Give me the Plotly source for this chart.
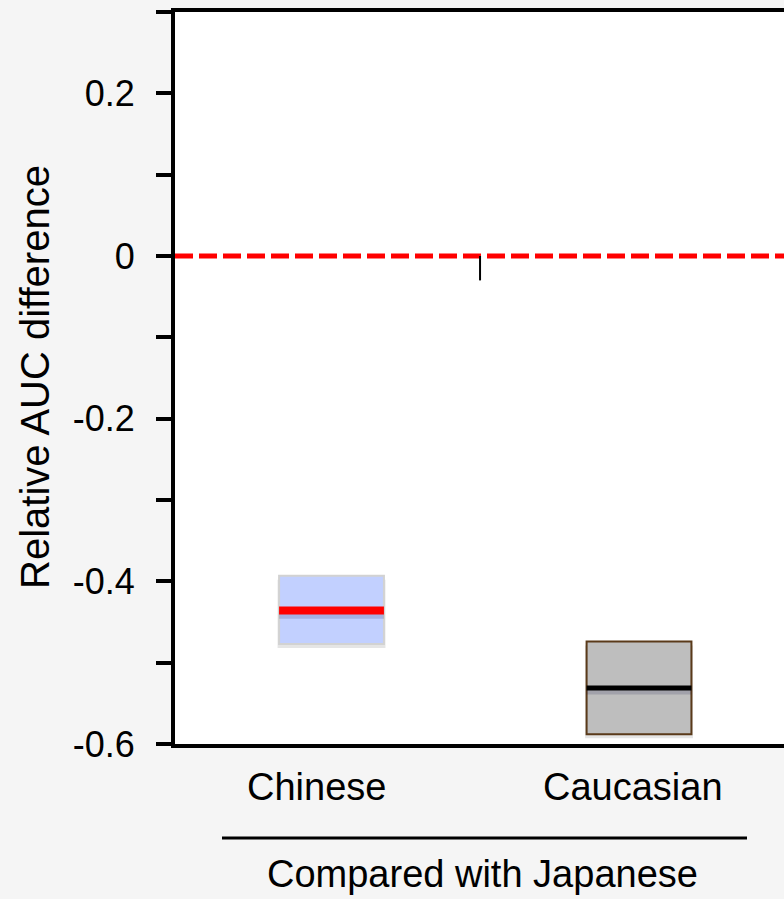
import plotly.graph_objects as go

categories = ["Chinese", "Caucasian"]
cat_pos = [1, 2]
q_low = [-0.477, -0.588]
q_high = [-0.393, -0.474]
medians = [-0.436, -0.531]
box_fill = ["#C2D0FF", "#BEBEBE"]
box_edge = ["#D2D2D2", "#5A3A1A"]
median_color = ["#FF0000", "#000000"]
median_width = [8, 5]
y_tickvals = [-0.6, -0.5, -0.4, -0.3, -0.2, -0.1, 0.0, 0.1, 0.2, 0.3]
y_ticktext = ["-0.6", "", "-0.4", "", "-0.2", "", "0", "", "0.2", ""]
group_label = "Compared with Japanese"
y_title = "Relative AUC difference"

BOX_W = 0.341
SHADOW = 0.005
FONT = "Arial, Liberation Sans, Helvetica, sans-serif"

fig = go.Figure()

# soft drop shadow under the boxes
fig.add_trace(go.Bar(
    x=cat_pos,
    base=[l - SHADOW for l in q_low],
    y=[h - l for h, l in zip(q_high, q_low)],
    width=BOX_W + 0.01,
    marker=dict(color="rgba(0,0,0,0.10)", line=dict(width=0)),
    showlegend=False, hoverinfo="skip",
))

fig.add_trace(go.Bar(
    x=cat_pos,
    base=q_low,
    y=[h - l for h, l in zip(q_high, q_low)],
    width=BOX_W,
    marker=dict(color=box_fill, line=dict(color=box_edge, width=2)),
    showlegend=False,
    hoverinfo="skip",
))

for c, m, col, w in zip(cat_pos, medians, median_color, median_width):
    fig.add_trace(go.Scatter(
        x=[c - BOX_W / 2, c + BOX_W / 2], y=[m - SHADOW, m - SHADOW], mode="lines",
        line=dict(color="rgba(0,0,60,0.15)", width=w), showlegend=False, hoverinfo="skip",
    ))
    fig.add_trace(go.Scatter(
        x=[c - BOX_W / 2, c + BOX_W / 2], y=[m, m], mode="lines",
        line=dict(color=col, width=w), showlegend=False, hoverinfo="skip",
    ))

# reference line at zero
fig.add_shape(type="line", xref="paper", x0=0, x1=1, yref="y", y0=0, y1=0,
              line=dict(color="#FF0000", width=5, dash="18px,6px"))
# small tick below zero line
fig.add_shape(type="line", xref="x", x0=1.483, x1=1.483, yref="y", y0=0, y1=-0.03,
              line=dict(color="#000000", width=2))

W, H = 784, 899
L, R, T, B = 175, 0, 12, 155
pw = W - L - R
ph = H - T - B

def px_x(p):
    return (p - L) / pw

def px_y(p):
    return (H - B - p) / ph

# category labels
label_shift = [-15, -6]
for c, name, s in zip(cat_pos, categories, label_shift):
    fig.add_annotation(x=c, xref="x", y=0, yref="paper", yanchor="middle",
                       yshift=-43, xshift=s, text=name, showarrow=False,
                       font=dict(size=38, color="#000000", family=FONT))

# group underline
fig.add_shape(type="line", xref="paper", yref="paper",
              x0=px_x(222), x1=px_x(747), y0=px_y(838), y1=px_y(838),
              line=dict(color="#000000", width=3))
fig.add_annotation(x=px_x(482), xref="paper", y=px_y(874), yref="paper",
                   yanchor="middle", xanchor="center", text=group_label,
                   showarrow=False, font=dict(size=38, color="#000000", family=FONT))

# y title
fig.add_annotation(x=px_x(35), xref="paper", y=px_y(377), yref="paper",
                   xanchor="center", yanchor="middle", textangle=-90,
                   text=y_title, showarrow=False,
                   font=dict(size=40, color="#000000", family=FONT))

fig.update_layout(
    width=W, height=H,
    margin=dict(l=L, r=R, t=T, b=B, pad=0),
    paper_bgcolor="#F5F5F5",
    plot_bgcolor="#FFFFFF",
    barmode="overlay",
    font=dict(family=FONT, color="#000000"),
    showlegend=False,
)
fig.update_xaxes(range=[0.491, 2.4715], showline=True, mirror=True,
                 linecolor="#000000", linewidth=4, showgrid=False,
                 zeroline=False, showticklabels=False, ticks="", fixedrange=True)
fig.update_yaxes(range=[-0.6, 0.3], showline=True, mirror=False,
                 linecolor="#000000", linewidth=4, showgrid=False, zeroline=False,
                 tickmode="array", tickvals=y_tickvals, ticktext=y_ticktext,
                 ticks="outside", ticklen=15, tickwidth=4, tickcolor="#000000",
                 ticklabelstandoff=14, fixedrange=True,
                 tickfont=dict(size=36, color="#000000", family=FONT))

fig.write_html("out.html", config={"displayModeBar": False, "staticPlot": True},
               post_script="document.body.style.margin='0';document.body.style.overflow='hidden';")
